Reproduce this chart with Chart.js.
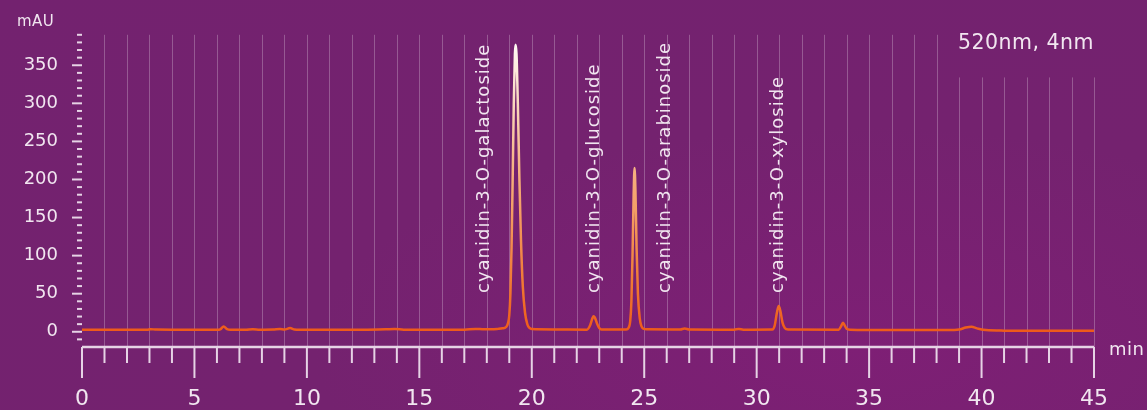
<!DOCTYPE html>
<html>
<head>
<meta charset="utf-8">
<script src="https://cdn.jsdelivr.net/npm/chart.js@4/dist/chart.umd.min.js"></script>
<style>
  html, body { margin: 0; padding: 0; background: #74226f; }
  #wrap { width: 1147px; height: 410px; position: relative;
    background: radial-gradient(ellipse at 75% 85%, #7e1f75 0%, #74226f 45%, #73226f 100%); }
</style>
</head>
<body>
<div id="wrap"><canvas id="chromChart" width="1147" height="410"></canvas></div>
<script>
// 크로마토그램 데이터 (min, mAU)
const retentionTime = [
  0, 1, 2, 2.9, 3.05, 3.3, 4.5, 6.0, 6.15, 6.3, 6.45, 6.6, 7.3, 7.6, 7.9, 8.5, 8.8, 9.0, 9.25, 9.45, 9.7,
  11, 12.5, 13.5, 13.9, 14.3, 15.5, 17.0, 17.5, 17.8, 18.2, 18.5, 18.7, 18.85, 18.95,
  19.0, 19.05, 19.1, 19.15, 19.2, 19.25, 19.28, 19.32, 19.38, 19.45, 19.52, 19.6, 19.7, 19.8, 19.9, 20.0,
  21.0, 22.45, 22.6, 22.7, 22.75, 22.8, 22.9, 23.0, 23.1,
  24.2, 24.3, 24.38, 24.43, 24.48, 24.53, 24.57, 24.61, 24.66, 24.72, 24.8, 24.88, 24.97, 25.1,
  26.6, 26.8, 27.0, 29.0, 29.2, 29.4, 30.7, 30.8, 30.9, 30.98, 31.05, 31.15, 31.25, 31.4,
  33.65, 33.75, 33.84, 33.92, 34.0, 34.15, 36, 38.5, 39.0, 39.3, 39.55, 39.8, 40.2, 41, 43, 45
];
const absorbance = [
  2.5, 2.5, 2.5, 2.6, 3.4, 2.9, 2.7, 2.6, 3.2, 7.0, 3.5, 2.6, 2.8, 3.3, 2.8, 3.0, 3.6, 3.0, 4.8, 3.0, 2.6,
  2.5, 2.6, 3.2, 3.6, 2.8, 2.6, 2.8, 3.8, 3.4, 3.2, 3.8, 4.5, 6, 12,
  22, 50, 110, 200, 300, 365, 377, 365, 300, 200, 120, 60, 25, 10, 5, 3.5,
  3.0, 2.8, 9, 18, 20.5, 19, 11, 5, 3,
  3, 5, 15, 40, 100, 180, 215, 185, 110, 50, 18, 7, 4, 3.2,
  3.0, 4.2, 3.0, 2.8, 3.6, 2.8, 3.0, 8, 25, 34, 28, 12, 5, 3,
  2.8, 7, 12, 8, 4, 2.8, 2.4, 2.3, 3.0, 5.5, 6.5, 4.5, 2.2, 1.5, 1.3, 1.3
];

// 피크 라벨
const peakNames = ['cyanidin-3-O-galactoside', 'cyanidin-3-O-glucoside', 'cyanidin-3-O-arabinoside', 'cyanidin-3-O-xyloside'];
const peakLabelTimes = [17.9, 22.8, 25.95, 30.95];

// 축 눈금
const xTickValues = [0, 5, 10, 15, 20, 25, 30, 35, 40, 45];
const yTickValues = [0, 50, 100, 150, 200, 250, 300, 350];

const textColor = '#f1e6f0';
const fontFamily = '"DejaVu Sans", "Open Sans", sans-serif';

// 그리드 + 축 눈금 그리기
const chromPlugin = {
  id: 'chromPlugin',
  beforeDatasetsDraw(chart) {
    const { ctx, chartArea, scales } = chart;
    const lowTop = scales.y.getPixelForValue(334);
    ctx.save();
    ctx.strokeStyle = 'rgba(255,255,255,0.25)';
    ctx.lineWidth = 1;
    for (let m = 1; m <= 45; m++) {
      const x = Math.round(scales.x.getPixelForValue(m)) + 0.5;
      ctx.beginPath();
      ctx.moveTo(x, m >= 39 ? lowTop : chartArea.top);
      ctx.lineTo(x, chartArea.bottom);
      ctx.stroke();
    }
    ctx.restore();
  },
  afterDraw(chart) {
    const { ctx, chartArea, scales } = chart;
    ctx.save();
    ctx.strokeStyle = '#e6d3e5';
    // x 축 선
    ctx.lineWidth = 2.5;
    ctx.beginPath();
    ctx.moveTo(chartArea.left, chartArea.bottom);
    ctx.lineTo(chartArea.right, chartArea.bottom);
    ctx.stroke();
    // x 눈금
    ctx.lineWidth = 2;
    for (let m = 0; m <= 45; m++) {
      const x = scales.x.getPixelForValue(m);
      const len = m % 5 === 0 ? 31 : 16;
      ctx.beginPath();
      ctx.moveTo(x, chartArea.bottom);
      ctx.lineTo(x, chartArea.bottom + len);
      ctx.stroke();
    }
    // y 눈금
    for (let v = -10; v <= 390; v += 10) {
      const y = scales.y.getPixelForValue(v);
      const len = v % 50 === 0 ? 10 : 5;
      ctx.beginPath();
      ctx.moveTo(chartArea.left - len, y);
      ctx.lineTo(chartArea.left, y);
      ctx.stroke();
    }
    // 피크 라벨
    ctx.fillStyle = textColor;
    ctx.font = '400 18px ' + fontFamily;
    ctx.letterSpacing = '1px';
    ctx.textAlign = 'left';
    ctx.textBaseline = 'middle';
    peakNames.forEach((name, i) => {
      ctx.save();
      ctx.translate(scales.x.getPixelForValue(peakLabelTimes[i]), 293);
      ctx.rotate(-Math.PI / 2);
      ctx.fillText(name, 0, 0);
      ctx.restore();
    });
    // 기타 텍스트
    ctx.letterSpacing = '0.5px';
    ctx.font = '400 20.5px ' + fontFamily;
    ctx.textAlign = 'right';
    ctx.fillText('520nm, 4nm', chartArea.right, 44);
    ctx.textAlign = 'left';
    ctx.font = '400 18px ' + fontFamily;
    ctx.fillText('min', 1109, 350);
    ctx.font = '400 15px ' + fontFamily;
    ctx.fillText('mAU', 17, 22);
    ctx.restore();
  }
};

document.addEventListener('DOMContentLoaded', function() {
  const chromCtx = document.getElementById('chromChart');
  new Chart(chromCtx.getContext('2d'), {
    type: 'line',
    data: {
      datasets: [{
        data: retentionTime.map((t, i) => ({ x: t, y: absorbance[i] })),
        borderColor: function(context) {
          const chart = context.chart;
          const { ctx, chartArea, scales } = chart;
          if (!chartArea) return '#ee5a1a';
          const y0 = scales.y.getPixelForValue(0);
          const y1 = scales.y.getPixelForValue(380);
          const g = ctx.createLinearGradient(0, y0, 0, y1);
          g.addColorStop(0, '#ee5a1a');
          g.addColorStop(0.15, '#f07630');
          g.addColorStop(0.57, '#f6b383');
          g.addColorStop(1, '#fffaf6');
          return g;
        },
        borderWidth: 2.5,
        pointRadius: 0,
        fill: false,
        cubicInterpolationMode: 'monotone'
      }]
    },
    options: {
      responsive: false,
      animation: false,
      layout: { padding: { top: 33, right: 50, left: 0, bottom: 0 } },
      plugins: {
        legend: { display: false },
        tooltip: { enabled: false }
      },
      scales: {
        x: {
          type: 'linear',
          min: 0,
          max: 45,
          afterFit: s => { s.height = 63; },
          afterBuildTicks: s => { s.ticks = xTickValues.map(v => ({ value: v })); },
          grid: { display: false, drawTicks: false },
          border: { display: false },
          ticks: {
            color: textColor,
            font: { family: fontFamily, size: 22 },
            padding: 39,
            maxRotation: 0,
            autoSkip: false
          }
        },
        y: {
          min: -20,
          max: 390,
          afterFit: s => { s.width = 82; },
          afterBuildTicks: s => { s.ticks = yTickValues.map(v => ({ value: v })); },
          grid: { display: false, drawTicks: false },
          border: { display: false },
          ticks: {
            color: textColor,
            font: { family: fontFamily, size: 18 },
            padding: 24,
            autoSkip: false
          }
        }
      }
    },
    plugins: [chromPlugin]
  });
});
</script>
</body>
</html>
